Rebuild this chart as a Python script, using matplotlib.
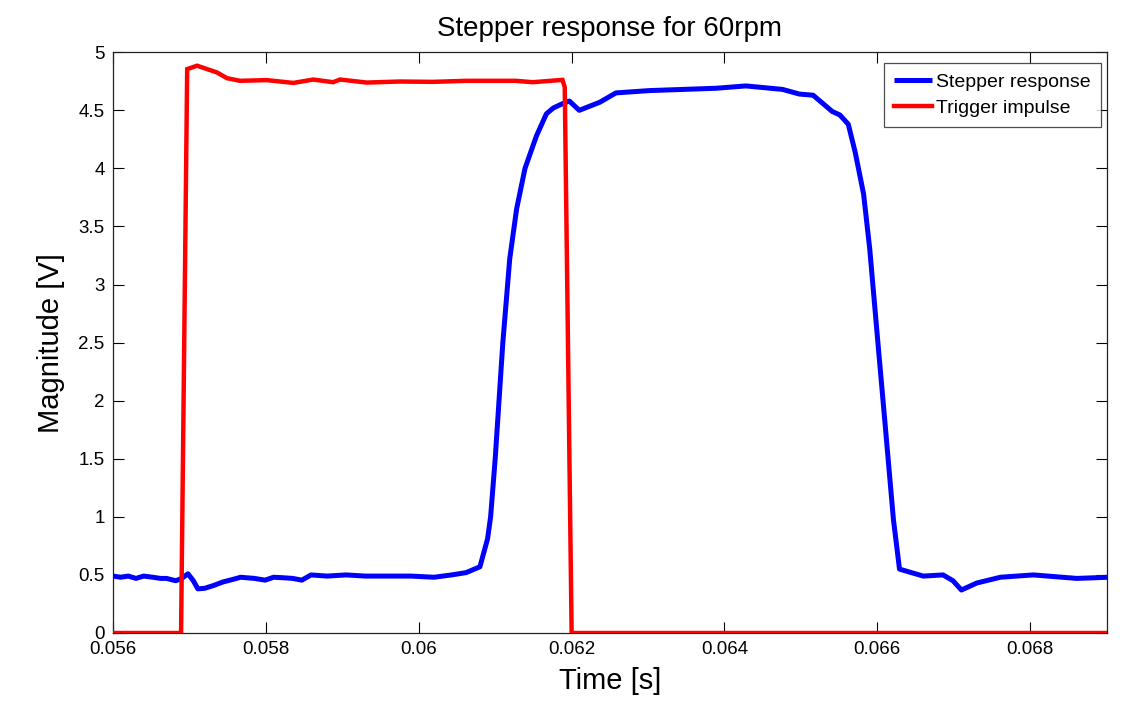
import matplotlib
matplotlib.use("Agg")
import matplotlib.pyplot as plt

plt.rcParams['font.family'] = ['Liberation Sans', 'DejaVu Sans']

# Stepper response (blue)
stepper_t = [0.05600, 0.05610, 0.05620, 0.05630, 0.05640, 0.05652, 0.05662, 0.05670,
             0.05682, 0.05690, 0.05698, 0.05705, 0.05711, 0.05720, 0.05732, 0.05744,
             0.05756, 0.05767, 0.05785, 0.05799, 0.05810, 0.05822, 0.05835, 0.05847,
             0.05859, 0.05880, 0.05905, 0.05930, 0.05960, 0.05990, 0.06020, 0.06043,
             0.06062, 0.06080, 0.06090, 0.06094, 0.06100, 0.06110, 0.06119, 0.06128,
             0.06139, 0.06154, 0.06167, 0.06176, 0.06189, 0.06197, 0.06210, 0.06237,
             0.06258, 0.06302, 0.06346, 0.06389, 0.06428, 0.06476, 0.06498, 0.06516,
             0.06541, 0.06551, 0.06562, 0.06571, 0.06582, 0.06590, 0.06601, 0.06610,
             0.06621, 0.06629, 0.06660, 0.06686, 0.06699, 0.06710, 0.06730, 0.06761,
             0.06804, 0.06861, 0.06902]
stepper_v = [0.49, 0.48, 0.49, 0.47, 0.49, 0.48, 0.47, 0.47,
             0.45, 0.47, 0.51, 0.45, 0.38, 0.385, 0.41, 0.44,
             0.46, 0.48, 0.47, 0.455, 0.48, 0.476, 0.47, 0.455,
             0.50, 0.49, 0.50, 0.49, 0.49, 0.49, 0.48, 0.50,
             0.52, 0.57, 0.81, 1.00, 1.50, 2.50, 3.22, 3.65,
             4.00, 4.28, 4.47, 4.52, 4.56, 4.58, 4.50, 4.57,
             4.65, 4.67, 4.68, 4.69, 4.71, 4.68, 4.64, 4.63,
             4.49, 4.46, 4.38, 4.14, 3.78, 3.31, 2.48, 1.81,
             0.98, 0.55, 0.49, 0.50, 0.45, 0.37, 0.43, 0.48,
             0.50, 0.47, 0.48]

# Trigger impulse (red)
trigger_t = [0.05600, 0.05689, 0.05697, 0.05710, 0.05727, 0.05736, 0.05749, 0.05766,
             0.05801, 0.05836, 0.05862, 0.05888, 0.05897, 0.05932, 0.05975, 0.06018,
             0.06062, 0.06127, 0.06149, 0.06188, 0.06191, 0.06200, 0.06902]
trigger_v = [0.0, 0.0, 4.855, 4.884, 4.846, 4.826, 4.777, 4.754,
             4.76, 4.736, 4.765, 4.742, 4.765, 4.739, 4.748, 4.745,
             4.754, 4.754, 4.742, 4.762, 4.70, 0.0, 0.0]

x_ticks = [0.056, 0.058, 0.06, 0.062, 0.064, 0.066, 0.068]
x_tick_labels = ['0.056', '0.058', '0.06', '0.062', '0.064', '0.066', '0.068']
y_ticks = [0, 0.5, 1, 1.5, 2, 2.5, 3, 3.5, 4, 4.5, 5]
y_tick_labels = ['0', '0.5', '1', '1.5', '2', '2.5', '3', '3.5', '4', '4.5', '5']

fig = plt.figure(figsize=(11.35, 7.06), dpi=100)
ax = fig.add_axes([0.0996, 0.1034, 0.8754, 0.8226])

ax.plot(stepper_t, stepper_v, color='#0000ff', lw=3.6, label='Stepper response',
        solid_joinstyle='round', solid_capstyle='butt', zorder=3)
ax.plot(trigger_t, trigger_v, color='#ff0000', lw=3.2, label='Trigger impulse',
        solid_joinstyle='miter', zorder=4)

ax.set_xlim(0.056, 0.069)
ax.set_ylim(0, 5)
ax.set_xticks(x_ticks)
ax.set_xticklabels(x_tick_labels)
ax.set_yticks(y_ticks)
ax.set_yticklabels(y_tick_labels)
ax.tick_params(direction='in', length=8, width=0.8, top=True, right=True,
               labelsize=13.5, pad=6)
for s in ax.spines.values():
    s.set_linewidth(0.9)
    s.set_color('#222222')

ax.set_title('Stepper response for 60rpm', fontsize=20, pad=12)
ax.set_xlabel('Time [s]', fontsize=21, labelpad=6)
ax.set_ylabel('Magnitude [V]', fontsize=21, labelpad=10)

leg = ax.legend(loc='upper right', bbox_to_anchor=(0.994, 0.981), borderaxespad=0,
                fontsize=14, frameon=True, fancybox=False,
                edgecolor='#222222', handlelength=2.0,
                handletextpad=0.2, borderpad=0.5, labelspacing=0.45)
leg.get_frame().set_linewidth(0.9)

fig.savefig('out.png', dpi=100)
